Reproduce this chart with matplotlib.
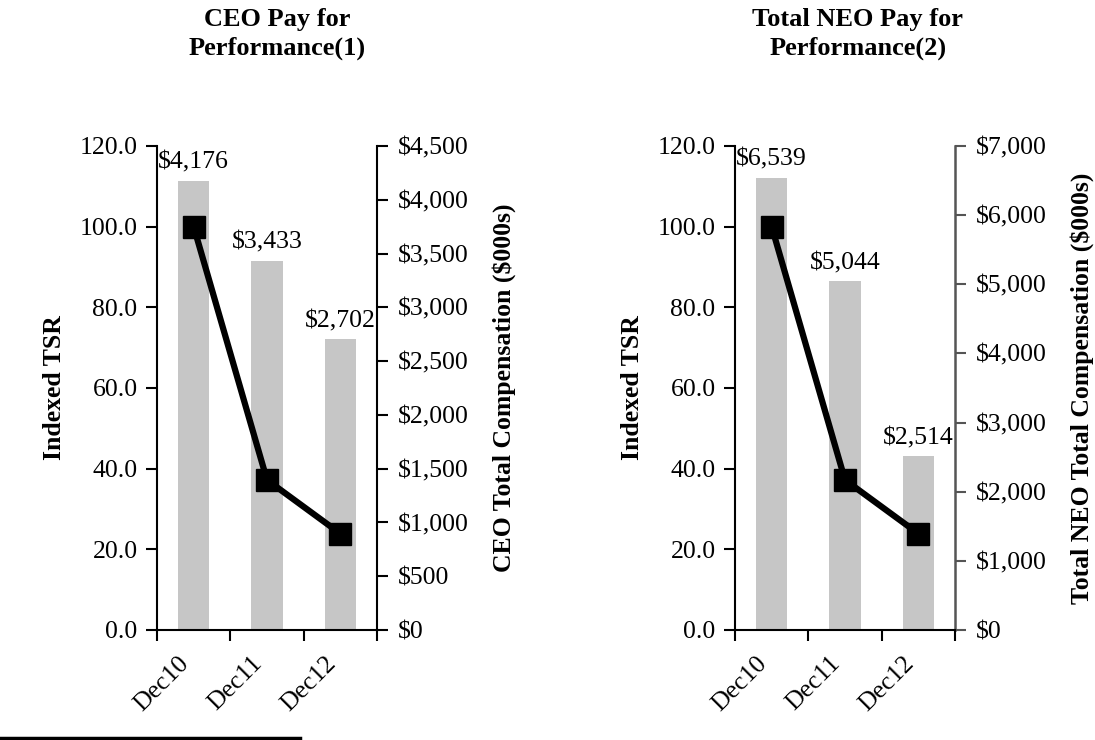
import matplotlib
matplotlib.use('Agg')
import matplotlib.pyplot as plt
from matplotlib.lines import Line2D
from matplotlib.ticker import FuncFormatter, FixedLocator

plt.rcParams['font.family'] = ['Liberation Serif', 'DejaVu Serif']

# Data
years = ['Dec10', 'Dec11', 'Dec12']
tsr = [100.0, 37.2, 23.9]
ceo_pay = [4176, 3433, 2702]
neo_pay = [6539, 5044, 2514]

titles = ['CEO Pay for\nPerformance(1)', 'Total NEO Pay for\nPerformance(2)']
pay_labels = ['CEO Total Compensation ($000s)', 'Total NEO Total Compensation ($000s)']
pay_max = [4500, 7000]
pay_step = [500, 1000]

FS = 18.5
BAR_COLOR = '#c6c6c6'

fig = plt.figure(figsize=(10.95, 7.4), dpi=100)

panels = [(157, ceo_pay), (735, neo_pay)]
for i, (left_px, pay) in enumerate(panels):
    ax = fig.add_axes([left_px / 1095, 110 / 740, 220 / 1095, 484 / 740])
    ax2 = ax.twinx()
    x = range(len(years))

    # bars on the compensation axis
    bars = ax2.bar(x, pay, width=0.43, color=BAR_COLOR, zorder=1)
    for b, v in zip(bars, pay):
        ax2.annotate(f'${v:,}', (b.get_x() + b.get_width() / 2, v),
                     xytext=(0, 5), textcoords='offset points',
                     ha='center', va='bottom', fontsize=FS)
    ax2.set_ylim(0, pay_max[i])
    ax2.set_yticks(range(0, pay_max[i] + 1, pay_step[i]))
    ax2.yaxis.set_major_formatter(FuncFormatter(lambda v, p: f'${v:,.0f}'))
    ax2.set_ylabel(pay_labels[i], fontsize=FS, fontweight='bold', labelpad=17)

    # TSR line on the left axis, drawn above the bars
    ax.plot(x, tsr, color='black', lw=4.5, marker='s', markersize=16, zorder=3)
    ax.set_zorder(ax2.get_zorder() + 1)
    ax.patch.set_visible(False)
    ax.set_ylim(0, 120)
    ax.set_yticks(range(0, 121, 20))
    ax.yaxis.set_major_formatter(FuncFormatter(lambda v, p: f'{v:.1f}'))
    ax.set_ylabel('Indexed TSR', fontsize=FS, fontweight='bold', labelpad=10)

    ax.set_xlim(-0.5, len(years) - 0.5)
    ax.set_xticks(list(x))
    ax.set_xticklabels(years, rotation=45, ha='right', fontsize=FS)
    ax.tick_params(axis='x', which='major', length=0, pad=16)
    ax.xaxis.set_minor_locator(FixedLocator([-0.5, 0.5, 1.5, 2.5]))
    ax.tick_params(axis='x', which='minor', length=8, width=1.5, direction='out')

    ax.tick_params(axis='y', labelsize=FS, length=8, width=1.5, pad=6)
    ax2.tick_params(axis='y', labelsize=FS, length=8, width=1.5, pad=7)

    for s in ['top', 'right']:
        ax.spines[s].set_visible(False)
    for s in ['top', 'left', 'bottom']:
        ax2.spines[s].set_visible(False)
    ax.spines['left'].set_linewidth(1.5)
    ax.spines['bottom'].set_linewidth(1.5)
    ax2.spines['right'].set_linewidth(1.8 if i else 1.5)
    if i:
        ax2.spines['right'].set_color('#555555')
        ax2.tick_params(axis='y', color='#555555')

    # two-line bold title centred over each panel
    cx = (left_px + 120) / 1095 if i == 0 else 858 / 1095
    fig.text(cx, 1 - 34 / 740, titles[i], ha='center', va='center',
             fontsize=19, fontweight='bold', linespacing=1.3)

# footnote rule at the bottom left
fig.add_artist(Line2D([0, 300 / 1095], [2 / 740, 2 / 740], color='black', lw=2.5))

fig.savefig('out.png', dpi=100)
